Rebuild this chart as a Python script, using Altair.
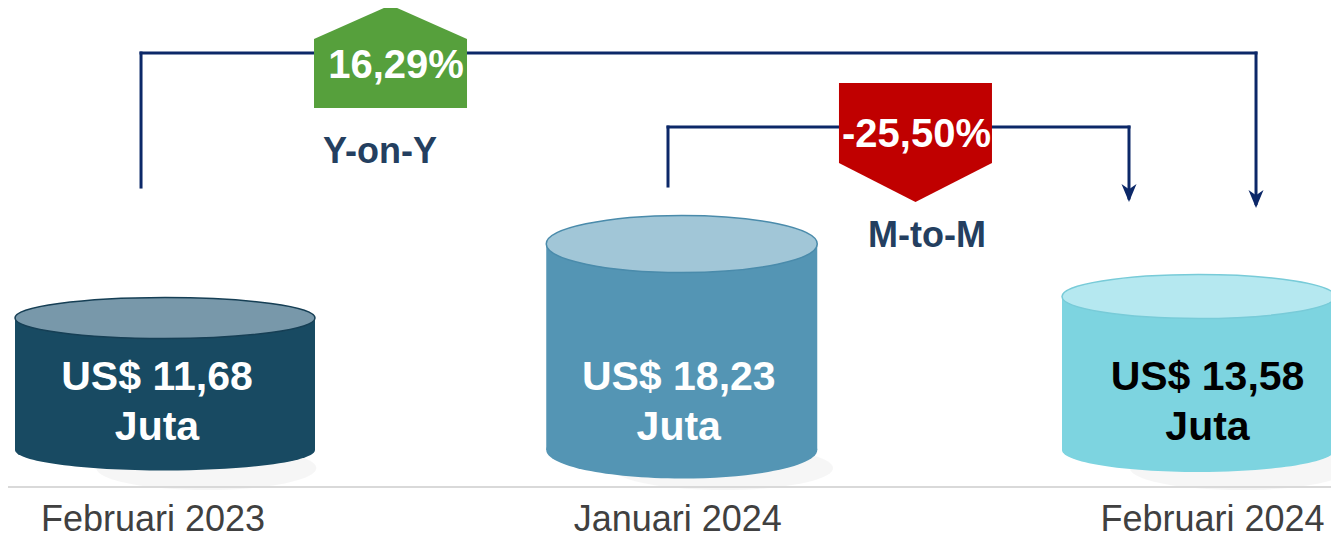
import altair as alt
import pandas as pd

# ---------------- data ----------------
categories = ["Februari 2023", "Januari 2024", "Februari 2024"]
values = [11.68, 18.23, 13.58]                      # US$ juta
value_text = ["US$ 11,68", "US$ 18,23", "US$ 13,58"]
unit_text = ["Juta", "Juta", "Juta"]
change_text = ["16,29%", "-25,50%"]
change_name = ["Y-on-Y", "M-to-M"]

# ---------------- style ----------------
body_colors = ["#184a62", "#5495b4", "#7dd4e0"]
top_colors = ["#7898aa", "#a1c6d7", "#b5e8f0"]
edge_colors = ["#163f55", "#4a8bab", "#78cbd8"]
text_colors = ["#ffffff", "#ffffff", "#000000"]
change_colors = ["#56a03c", "#c00000"]
navy = "#0c2868"
name_color = "#243f60"

W, H = 1323, 533
PX_X = 516.75      # pixels per category step
PX_Y = 11.3        # pixels per US$ juta
X0 = -157 / PX_X
X1 = X0 + W / PX_X
Y1 = 442 / PX_Y
Y0 = (442 - H) / PX_Y

half_w_px = [150, 135.5, 136.5]     # cylinder half widths
ell_ry_px = [20.5, 28.5, 22.0]      # ellipse vertical radii
text_dx_px = [-8, -3, 9]
label_dx_px = [-12, -4, 14]


def ellipse_path(k):
    c = 0.5523
    f = lambda v: f"{v:.4f}"
    return (f"M -1 0 C -1 {f(-c*k)} {f(-c)} {f(-k)} 0 {f(-k)} "
            f"C {f(c)} {f(-k)} 1 {f(-c*k)} 1 0 "
            f"C 1 {f(c*k)} {f(c)} {f(k)} 0 {f(k)} "
            f"C {f(-c)} {f(k)} -1 {f(c*k)} -1 0 Z")


idx = [0, 1, 2]
cyl = pd.DataFrame({
    "cat": categories,
    "idx": idx,
    "value": values,
    "zero": [0.0] * 3,
    "shadow_y": [-1.6] * 3,
    "shadow_x": [i + 0.08 for i in idx],
    "xl": [i - h / PX_X for i, h in zip(idx, half_w_px)],
    "xr": [i + h / PX_X for i, h in zip(idx, half_w_px)],
    "shape": [ellipse_path(r / h) for r, h in zip(ell_ry_px, half_w_px)],
    "size": [(2 * h) ** 2 for h in half_w_px],
    "body": body_colors,
    "top": top_colors,
    "edge": edge_colors,
    "tcol": text_colors,
    "vtext": value_text,
    "utext": unit_text,
    "tx": [i + d / PX_X for i, d in zip(idx, text_dx_px)],
    "ty1": [5.31] * 3,
    "ty2": [0.885] * 3,
    "lx": [i + d / PX_X for i, d in zip(idx, label_dx_px)],
    "ly": [-7.2] * 3,
})

xs = alt.Scale(domain=[X0, X1], nice=False, zero=False)
ys = alt.Scale(domain=[Y0, Y1], nice=False, zero=False)


def X(f):
    return alt.X(f, scale=xs, axis=None)


def Y(f):
    return alt.Y(f, scale=ys, axis=None)


base = alt.Chart(cyl)

# faint shadows under the cylinders
shadow_path = ellipse_path(0.2)
shadows = base.mark_point(shape=shadow_path, size=220 ** 2, filled=True,
                          opacity=0.035, strokeWidth=0, color="#000000").encode(
    x=X("shadow_x:Q"), y=Y("shadow_y:Q"))

baseline = alt.Chart(pd.DataFrame({"x": [X0], "x2": [X1], "y": [-3.27]})).mark_rule(
    color="#d9d9d9", strokeWidth=2
).encode(x=X("x:Q"), x2="x2:Q", y=Y("y:Q"))

bottom = base.mark_point(filled=True, opacity=1, strokeWidth=0).encode(
    x=X("idx:Q"), y=Y("zero:Q"),
    shape=alt.Shape("shape:N", scale=None),
    size=alt.Size("size:Q", scale=None),
    color=alt.Color("body:N", scale=None),
)
body = base.mark_rect().encode(
    x=X("xl:Q"), x2="xr:Q", y=Y("zero:Q"), y2="value:Q",
    color=alt.Color("body:N", scale=None),
)
top = base.mark_point(filled=True, opacity=1, strokeWidth=1.5).encode(
    x=X("idx:Q"), y=Y("value:Q"),
    shape=alt.Shape("shape:N", scale=None),
    size=alt.Size("size:Q", scale=None),
    fill=alt.Fill("top:N", scale=None),
    stroke=alt.Stroke("edge:N", scale=None),
)
vt = base.mark_text(font="Liberation Sans", fontWeight="bold", fontSize=41,
                    align="center", baseline="alphabetic").encode(
    x=X("tx:Q"), y=Y("ty1:Q"), text="vtext:N", color=alt.Color("tcol:N", scale=None))
ut = base.mark_text(font="Liberation Sans", fontWeight="bold", fontSize=41,
                    align="center", baseline="alphabetic").encode(
    x=X("tx:Q"), y=Y("ty2:Q"), text="utext:N", color=alt.Color("tcol:N", scale=None))
labels = base.mark_text(font="Liberation Sans", fontSize=36, color="#404040",
                        align="center", baseline="alphabetic").encode(
    x=X("lx:Q"), y=Y("ly:Q"), text="cat:N")

# ---------------- change brackets ----------------
yoy_l, yoy_r, yoy_top, yoy_start = -0.0464, 2.1113, 35.13, 23.27
mtm_l, mtm_r, mtm_top, mtm_start = 0.9734, 1.8655, 28.58, 23.36
segs = pd.DataFrame({
    "x": [yoy_l, yoy_l, yoy_r, mtm_l, mtm_l, mtm_r],
    "x2": [yoy_l, yoy_r, yoy_r, mtm_l, mtm_r, mtm_r],
    "y": [yoy_start, yoy_top, yoy_top, mtm_start, mtm_top, mtm_top],
    "y2": [yoy_top, yoy_top, 21.8, mtm_top, mtm_top, 22.3],
})
lines = alt.Chart(segs).mark_rule(color=navy, strokeWidth=3, strokeCap="square").encode(
    x=X("x:Q"), x2="x2:Q", y=Y("y:Q"), y2="y2:Q")

arrow_path = "M 0 0 L -1 -2.4 L 0 -1.7 L 1 -2.4 Z"
arrows = alt.Chart(pd.DataFrame({"x": [yoy_r, mtm_r], "y": [21.42, 21.95]})).mark_point(
    shape=arrow_path, size=225, filled=True, opacity=1, strokeWidth=0, color=navy
).encode(x=X("x:Q"), y=Y("y:Q"))

up_path = "M -1 0.673 L -1 -0.229 L 0 -0.673 L 1 -0.229 L 1 0.673 Z"
down_path = "M -1 -0.778 L 1 -0.778 L 1 0.268 L 0 0.778 L -1 0.268 Z"
badges = pd.DataFrame({
    "x": [0.4364, 1.4523], "y": [34.82, 27.21],
    "shape": [up_path, down_path], "col": change_colors,
    "text": change_text, "tx": [0.4470, 1.4543], "ty": [32.92, 26.81],
    "name": change_name, "nx": [0.4161, 1.4746], "ny": [25.40, 17.96],
})
bchart = alt.Chart(badges)
badge = bchart.mark_point(size=153 ** 2, filled=True, opacity=1, strokeWidth=0).encode(
    x=X("x:Q"), y=Y("y:Q"),
    shape=alt.Shape("shape:N", scale=None),
    color=alt.Color("col:N", scale=None))
btext = bchart.mark_text(font="Liberation Sans", fontWeight="bold", fontSize=40,
                         color="#ffffff", align="center", baseline="alphabetic").encode(
    x=X("tx:Q"), y=Y("ty:Q"), text="text:N")
ntext = bchart.mark_text(font="Liberation Sans", fontWeight="bold", fontSize=36,
                         color=name_color, align="center", baseline="alphabetic").encode(
    x=X("nx:Q"), y=Y("ny:Q"), text="name:N")

chart = alt.layer(
    shadows, baseline, bottom, body, top, vt, ut, labels, lines, arrows, badge, btext, ntext
).properties(
    width=W, height=H, padding=0,
    autosize=alt.AutoSizeParams(type="none"),
    background="white",
).configure_view(strokeWidth=0)

chart.save("out.html", embed_options={"renderer": "svg", "actions": False})
